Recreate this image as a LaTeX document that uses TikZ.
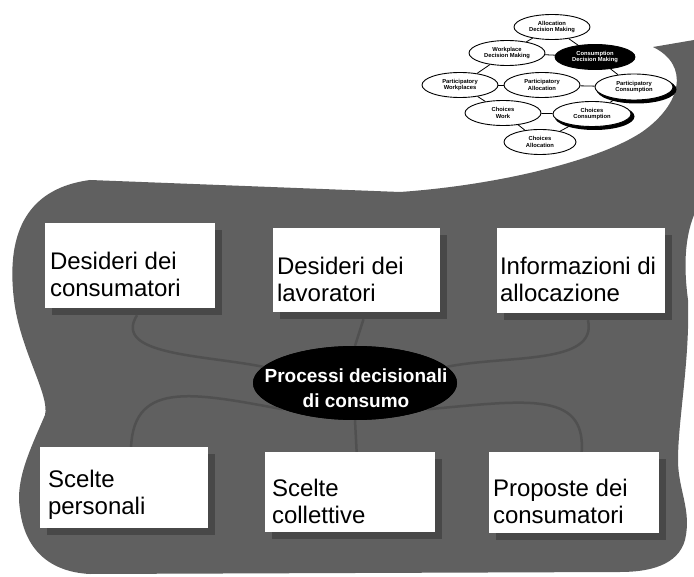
\documentclass[tikz,border=0pt]{standalone}
\usepackage{fontspec}
\setmainfont{Liberation Sans}
\usetikzlibrary{shapes.geometric,calc}
\definecolor{blobgray}{RGB}{96,96,96}
\definecolor{flowgray}{RGB}{80,80,80}
\definecolor{shadegray}{RGB}{72,72,72}
\tikzset{
  card/.style={fill=white, inner sep=0pt},
  cardshade/.style={fill=shadegray, inner sep=0pt},
  cardtext/.style={font=\fontsize{24}{27}\selectfont, align=left, anchor=west, inner sep=0pt},
  mini/.style={ellipse, draw, line width=0.9pt, fill=white, minimum width=76pt, minimum height=25pt, inner sep=0pt, font=\fontsize{5.8}{6.4}\selectfont\bfseries, align=center},
  minidark/.style={mini, fill=black, text=white},
  minilink/.style={line width=0.8pt},
  flow/.style={draw=flowgray, line width=2.5pt},
}
\begin{document}
\begin{tikzpicture}[x=1pt,y=-1pt]
\useasboundingbox (0,0) rectangle (694,577);
\fill[white] (0,0) rectangle (694,577);
% gray blob
\fill[blobgray] (90,180) -- (400,192)
  .. controls (500,185) and (600,160) .. (642,132)
  .. controls (682,104) and (690,65) .. (653,47)
  -- (694,40) -- (694,215)
  .. controls (684,240) and (684,270) .. (688,300)
  .. controls (690,360) and (678,420) .. (678,460)
  .. controls (678,490) and (692,510) .. (685,540)
  .. controls (678,565) and (650,572) .. (620,572)
  -- (90,574)
  .. controls (50,572) and (25,550) .. (20,510)
  .. controls (15,480) and (30,450) .. (45,415)
  .. controls (50,395) and (20,350) .. (14,300)
  .. controls (8,250) and (15,190) .. (90,180) -- cycle;

% shadows of cards
\node[cardshade, minimum width=170pt, minimum height=85pt] (s1) at (137,272.5) {};
\node[cardshade, minimum width=167pt, minimum height=84pt] (s2) at (363.5,277) {};
\node[cardshade, minimum width=168pt, minimum height=85pt] (s3) at (588,277.5) {};
\node[cardshade, minimum width=168pt, minimum height=81pt] (s4) at (131,494.5) {};
\node[cardshade, minimum width=170pt, minimum height=80pt] (s5) at (357,499) {};
\node[cardshade, minimum width=170pt, minimum height=81pt] (s6) at (581,499.5) {};

% central ellipse
\node[ellipse, fill=black, minimum width=204pt, minimum height=74pt, inner sep=0pt] (pd) at (355,383) {};

% flows
\draw[flow] (s1.south) .. controls +(-25,40) and +(-60,-12) .. (pd.170);
\draw[flow] (s2.south) -- (pd.north);
\draw[flow] (s3.south) .. controls +(10,45) and +(60,-12) .. (pd.10);
\draw[flow] (pd.200) .. controls (190,392) and (130,380) .. (s4.north);
\draw[flow] (pd.south) -- (s5.north);
\draw[flow] (pd.-20) .. controls (530,400) and (590,390) .. (s6.north);

\node[ellipse, fill=black, minimum width=204pt, minimum height=74pt, inner sep=0pt] (pd2) at (355,383) {};
\node[font=\fontsize{19}{25}\selectfont\bfseries, text=white, align=center, inner sep=0pt] (pdt) at (356,388) {Processi decisionali\\di consumo};

% cards
\node[card, minimum width=170pt, minimum height=85pt] (b1) at (130,265.5) {};
\node[card, minimum width=167pt, minimum height=84pt] (b2) at (356.5,270) {};
\node[card, minimum width=168pt, minimum height=85pt] (b3) at (581,270.5) {};
\node[card, minimum width=168pt, minimum height=81pt] (b4) at (124,487.5) {};
\node[card, minimum width=170pt, minimum height=80pt] (b5) at (350,492) {};
\node[card, minimum width=170pt, minimum height=81pt] (b6) at (574,492.5) {};

\node[cardtext] (t1) at ($(b1.west)+(5,9)$) {Desideri dei\\consumatori};
\node[cardtext] (t2) at ($(b2.west)+(4,9)$) {Desideri dei\\lavoratori};
\node[cardtext] (t3) at ($(b3.west)+(3,9)$) {Informazioni di\\allocazione};
\node[cardtext] (t4) at ($(b4.west)+(8,7)$) {Scelte\\personali};
\node[cardtext] (t5) at ($(b5.west)+(7,9)$) {Scelte\\collettive};
\node[cardtext] (t6) at ($(b6.west)+(4,9)$) {Proposte dei\\consumatori};

% small cluster
\fill (636.5,89.5) ellipse [x radius=40pt, y radius=14pt];
\fill (594.5,116.5) ellipse [x radius=40pt, y radius=13.5pt];
\node[mini] (e1) at (552,27) {Allocation\\Decision Making};
\node[mini] (e2) at (507,53) {Workplace\\Decision Making};
\node[minidark, minimum width=80pt] (e3) at (595,57) {Consumption\\Decision Making};
\node[mini] (e4) at (460,85) {Participatory\\Workplaces};
\node[mini] (e5) at (542,85) {Participatory\\Allocation};
\node[mini, minimum width=78pt, minimum height=26pt] (e6) at (634,87) {Participatory\\Consumption};
\node[mini] (e7) at (503,113) {Choices\\Work};
\node[mini, minimum width=78pt] (e8) at (592,114) {Choices\\Consumption};
\node[mini, minimum width=72pt] (e9) at (540,142) {Choices\\Allocation};
\draw[minilink] (e1) -- (e2);
\draw[minilink] (e1) -- (e3);
\draw[minilink] (e2) -- (e3);
\draw[minilink] (e2) -- (e4);
\draw[minilink] (e3) -- (e6);
\draw[minilink] (e4) -- (e5);
\draw[minilink] (e5) -- (e6);
\draw[minilink] (e4) -- (e7);
\draw[minilink] (e7) -- (e8);
\draw[minilink] (e7) -- (e9);
\draw[minilink] (e8) -- (e9);
\draw[minilink] (e6) -- (e8);
\end{tikzpicture}
\end{document}
